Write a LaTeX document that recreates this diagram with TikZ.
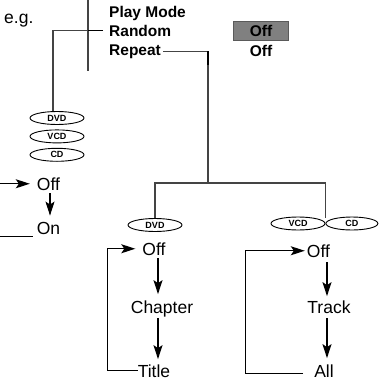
\documentclass[tikz,border=0pt]{standalone}
\usepackage{fontspec}
\setmainfont{Liberation Sans}
\usetikzlibrary{positioning, arrows.meta, shapes.geometric}
\definecolor{LineGray}  {HTML}{444444}
\definecolor{BoxFill}   {HTML}{808080}
\definecolor{BoxBorder} {HTML}{5A5A5A}
\tikzset{
  menutxt/.style={font=\fontsize{15.5}{18}\selectfont\bfseries, inner sep=0pt, anchor=base west},
  opttxt/.style={font=\fontsize{17.5}{20}\selectfont, inner sep=0pt, anchor=base},
  disc/.style={ellipse, draw=black, line width=0.9pt, minimum width=54pt, minimum height=13pt,
               inner sep=0pt, font=\fontsize{9}{10}\selectfont\bfseries},
  wire/.style={draw=LineGray, line width=1.1pt},
  arr/.style={draw=black, line width=1.1pt, -{Stealth[length=14pt, width=9pt, inset=3pt]}},
  stub/.style={draw=black, line width=1.7pt},
}

\begin{document}
\begin{tikzpicture}[x=1pt, y=-1pt]
      \useasboundingbox (0,0) rectangle (379,381);
      % ── Menu column ──
      \coordinate (lft) at (0,0);
      \coordinate (bartop) at (88,0);
      \coordinate (barbot) at (88,71);
      \node[opttxt, anchor=base west] (eg) at (4,23) {e.g.};
      \node[menutxt] (pm)  at (109,17) {Play Mode};
      \node[menutxt] (rnd) at (109,36) {Random};
      \node[menutxt] (rep) at (109,55) {Repeat};
      \draw[wire] (bartop) -- (barbot);
      % ── Settings ──
      \node[fill=BoxFill, draw=BoxBorder, line width=0.6pt, minimum width=55pt, minimum height=19pt,
            inner sep=0pt, font=\fontsize{15.5}{18}\selectfont\bfseries] (boxoff) at (261,30.5) {Off};
      \node[inner sep=0pt, font=\fontsize{15.5}{18}\selectfont\bfseries,
            below=5pt of boxoff] (offr) {Off};
      % ── Random: DVD / VCD / CD ──
      \node[disc] (dvda) at (57,118) {DVD};
      \node[disc, below=4.5pt of dvda] (vcda) {VCD};
      \node[disc, below=4.5pt of vcda] (cda) {CD};
      \draw[wire] ([xshift=-6pt]rnd.west) -| ([xshift=-4pt]dvda.north);
      \draw[stub] (barbot |- rnd.west) -- ([xshift=-6pt]rnd.west);
      \node[opttxt] (offa) at (48.5,190) {Off};
      \node[opttxt] (ona)  at (48.5,234) {On};
      \draw[arr, shorten >=7pt] (lft |- offa.west) -- (offa.west);
      \draw[arr, shorten <=3pt, shorten >=6pt] ([xshift=1.5pt]offa.south) -- ([xshift=1.5pt]offa.south |- ona.north);
      \draw[arr, -] ([xshift=-4pt, yshift=-2pt]ona.south west) -- ([yshift=-2pt]ona.south west -| lft);
      % ── Repeat: split to DVD and VCD/CD ──
      \coordinate (split) at (208,183);
      \node[disc] (dvdb) at (155,225) {DVD};
      \node[disc] (vcdb) at (298,223.5) {VCD};
      \node[disc, minimum width=52pt, right=0pt of vcdb] (cdb) {CD};
      \draw[wire] ([xshift=2pt]rep.east) -| (split);
      \draw[stub] (rep.east -| split) -- ++(0,14);
      \draw[wire] (dvdb.north) |- (split) -| ([yshift=6pt]vcdb.east);
      % ── DVD cycle ──
      \node[opttxt] (offb) at (154,255) {Off};
      \node[opttxt] (chap) at (162,313) {Chapter};
      \node[opttxt] (titl) at (154,377) {Title};
      \draw[arr, shorten <=3pt, shorten >=6pt] ([xshift=4pt]offb.south) -- ([xshift=4pt]offb.south |- chap.north);
      \draw[arr, shorten <=1pt, shorten >=5pt] ([xshift=-4pt]chap.south) -- ([xshift=-4pt]chap.south |- titl.north);
      \draw[arr, shorten >=7pt] (titl.west) -| ([xshift=-34.5pt]offb.west) -- (offb.west);
      % ── VCD / CD cycle ──
      \node[opttxt] (offc) at (318.5,257) {Off};
      \node[opttxt] (trk)  at (329,313) {Track};
      \node[opttxt] (alla) at (324,377) {All};
      \draw[arr, shorten <=5pt, shorten >=4pt] ([xshift=8.5pt]offc.south) -- ([xshift=8.5pt]offc.south |- trk.north);
      \draw[arr, shorten <=5pt, shorten >=6pt] ([xshift=-2pt]trk.south) -- ([xshift=-2pt]trk.south |- alla.north);
      \draw[arr, shorten <=11pt, shorten >=2pt] ([yshift=-3pt]alla.west) -| ([xshift=-61pt]offc.west) -- (offc.west);
\end{tikzpicture}
\end{document}
